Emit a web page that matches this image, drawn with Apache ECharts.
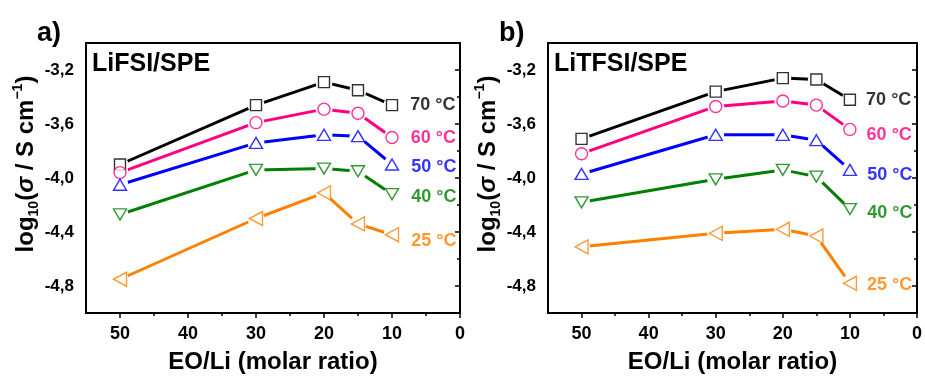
<!DOCTYPE html>
<html>
<head>
<meta charset="utf-8">
<script src="https://cdn.jsdelivr.net/npm/echarts@6/dist/echarts.min.js"></script>
<style>
  html, body { margin: 0; padding: 0; background: #fff; }
  #chart { width: 925px; height: 379px; }
</style>
</head>
<body>
<div id="chart"></div>
<script>
// EO/Li molar ratios of the measured electrolytes
const eoRatio = [50, 30, 20, 15, 10];
const tempLabels = ['70 °C', '60 °C', '50 °C', '40 °C', '25 °C'];

// log10(conductivity / S cm^-1), LiFSI-based SPE
const lifsi70 = [-3.90, -3.46, -3.29, -3.35, -3.46];
const lifsi60 = [-3.96, -3.59, -3.49, -3.52, -3.70];
const lifsi50 = [-4.05, -3.74, -3.68, -3.69, -3.90];
const lifsi40 = [-4.27, -3.94, -3.93, -3.95, -4.12];
const lifsi25 = [-4.75, -4.30, -4.11, -4.34, -4.42];

// log10(conductivity / S cm^-1), LiTFSI-based SPE
const litfsi70 = [-3.71, -3.36, -3.26, -3.27, -3.42];
const litfsi60 = [-3.82, -3.47, -3.43, -3.46, -3.64];
const litfsi50 = [-3.97, -3.68, -3.68, -3.72, -3.94];
const litfsi40 = [-4.18, -4.01, -3.94, -3.99, -4.23];
const litfsi25 = [-4.51, -4.41, -4.38, -4.43, -4.78];

// axis ticks
const xTicks = [50, 40, 30, 20, 10, 0];
const xMinorTicks = [45, 35, 25, 15, 5];
const yTicks = [-4.8, -4.4, -4.0, -3.6, -3.2];

const FONT = '"Liberation Sans", Arial, Helvetica, sans-serif';
const colors = ['#000000', '#FF0080', '#0000FF', '#008000', '#FF8000'];
const symbols = ['rect', 'circle', 'triangle', 'triangle', 'triangle'];
const symbolRotates = [0, 0, 0, 180, 90];
const symbolSizes = [[11, 11], 12, [13, 11], [13, 11], [14, 13]];

const panels = [
  { title: 'LiFSI/SPE', tag: 'a)', sets: [lifsi70, lifsi60, lifsi50, lifsi40, lifsi25],
    grid: { left: 86, top: 43, width: 374, height: 277 },
    labelOffset: [[6, 0], [6, 1], [6, 3], [6, 3], [6, 6]] },
  { title: 'LiTFSI/SPE', tag: 'b)', sets: [litfsi70, litfsi60, litfsi50, litfsi40, litfsi25],
    grid: { left: 548, top: 43, width: 374, height: 277 },
    labelOffset: [[4, 0], [4, 6], [4, 5], [4, 4], [4, 2]] }
];

const grid = [], xAxis = [], yAxis = [], series = [];

panels.forEach((p, i) => {
  grid.push(Object.assign({ show: true, borderColor: '#000', borderWidth: 2, backgroundColor: 'transparent' }, p.grid));

  // main x axis
  xAxis.push({
    gridIndex: i, type: 'value', min: 0, max: 55, inverse: true,
    axisLine: { show: true, lineStyle: { color: '#000', width: 2 } },
    axisTick: { show: true, inside: false, length: 5, customValues: xTicks, lineStyle: { color: '#000', width: 1.5 } },
    axisLabel: { show: true, customValues: xTicks, margin: 12, color: '#000', fontSize: 18, fontWeight: 'bold', fontFamily: FONT },
    splitLine: { show: false },
    name: 'EO/Li (molar ratio)', nameLocation: 'middle', nameGap: 37,
    nameTextStyle: { color: '#000', fontSize: 24, fontWeight: 'bold', fontFamily: FONT }
  });
  // minor x ticks
  xAxis.push({
    gridIndex: i, type: 'value', min: 0, max: 55, inverse: true, position: 'bottom',
    axisLine: { show: false },
    axisTick: { show: true, inside: false, length: 3, customValues: xMinorTicks, lineStyle: { color: '#000', width: 1.5 } },
    axisLabel: { show: false },
    splitLine: { show: false }
  });
  // main y axis
  yAxis.push({
    gridIndex: i, type: 'value', min: -5, max: -3,
    axisLine: { show: true, lineStyle: { color: '#000', width: 2 } },
    axisTick: { show: true, inside: false, length: 5, customValues: yTicks, lineStyle: { color: '#000', width: 1.5 } },
    axisLabel: { show: true, customValues: yTicks, margin: 12, color: '#000', fontSize: 17, fontWeight: 'bold', fontFamily: FONT,
      formatter: v => v.toFixed(1).replace('.', ',') },
    splitLine: { show: false }
  });
  // minor y ticks
  yAxis.push({
    gridIndex: i, type: 'value', min: -5, max: -3, interval: 0.4, position: 'left',
    axisLine: { show: false },
    axisTick: { show: true, inside: false, length: 3, lineStyle: { color: '#000', width: 1.5 } },
    axisLabel: { show: false },
    splitLine: { show: false }
  });

  p.sets.forEach((vals, k) => {
    const pts = eoRatio.map((x, j) => [x, vals[j]]);
    // connecting line; white discs open small gaps around each marker
    series.push({
      type: 'line', xAxisIndex: 2 * i, yAxisIndex: 2 * i, z: 2,
      data: pts, silent: true, animation: false,
      symbol: 'circle', symbolSize: 17, showAllSymbol: true,
      itemStyle: { color: '#fff', borderWidth: 0 },
      lineStyle: { color: colors[k], width: 3 }
    });
    // hollow markers with the temperature tag at the last point
    series.push({
      type: 'scatter', xAxisIndex: 2 * i, yAxisIndex: 2 * i, z: 3, animation: false, silent: true,
      symbol: symbols[k], symbolRotate: symbolRotates[k], symbolSize: symbolSizes[k],
      itemStyle: { color: '#fff', borderColor: colors[k], borderWidth: 1.4 },
      data: pts.map((pt, j) => j === pts.length - 1 ? {
        value: pt,
        label: {
          show: true, position: 'right', distance: 6, offset: p.labelOffset[k],
          formatter: tempLabels[k], color: colors[k], fontSize: 18, fontWeight: 'bold', fontFamily: FONT,
          textBorderWidth: 0
        }
      } : { value: pt })
    });
  });
});

const yTitle = '{n|log}{sub|10}{n|(}{sig|σ}{n| / S cm}{sup|−1}{n|)}';
const yTitleRich = {
  n: { fontSize: 24, fontWeight: 'bold', fontFamily: FONT, fill: '#000', lineHeight: 30 },
  sig: { fontSize: 24, fontWeight: 'bold', fontStyle: 'italic', fontFamily: FONT, fill: '#000', lineHeight: 30 },
  sub: { fontSize: 14, fontWeight: 'bold', fontFamily: FONT, fill: '#000', lineHeight: 14, verticalAlign: 'bottom' },
  sup: { fontSize: 14, fontWeight: 'bold', fontFamily: FONT, fill: '#000', lineHeight: 14, verticalAlign: 'top' }
};

const graphic = [];
panels.forEach((p) => {
  const gx = p.grid.left;
  graphic.push({
    type: 'text', x: gx - 49, y: 20,
    style: { text: p.tag, font: 'bold 27px ' + FONT, fill: '#000', textAlign: 'left', textVerticalAlign: 'top' }
  });
  graphic.push({
    type: 'text', x: gx + 6, y: 52,
    style: { text: p.title, font: 'bold 25px ' + FONT, fill: '#000', textAlign: 'left', textVerticalAlign: 'top' }
  });
  graphic.push({
    type: 'text', x: gx - 60, y: 164, rotation: Math.PI / 2,
    style: { text: yTitle, rich: yTitleRich, align: 'center', verticalAlign: 'middle',
      textAlign: 'center', textVerticalAlign: 'middle' }
  });
});

const chart = echarts.init(document.getElementById('chart'), null, { renderer: 'canvas' });
chart.setOption({
  backgroundColor: '#fff',
  animation: false,
  grid, xAxis, yAxis, series, graphic
});
</script>
</body>
</html>
